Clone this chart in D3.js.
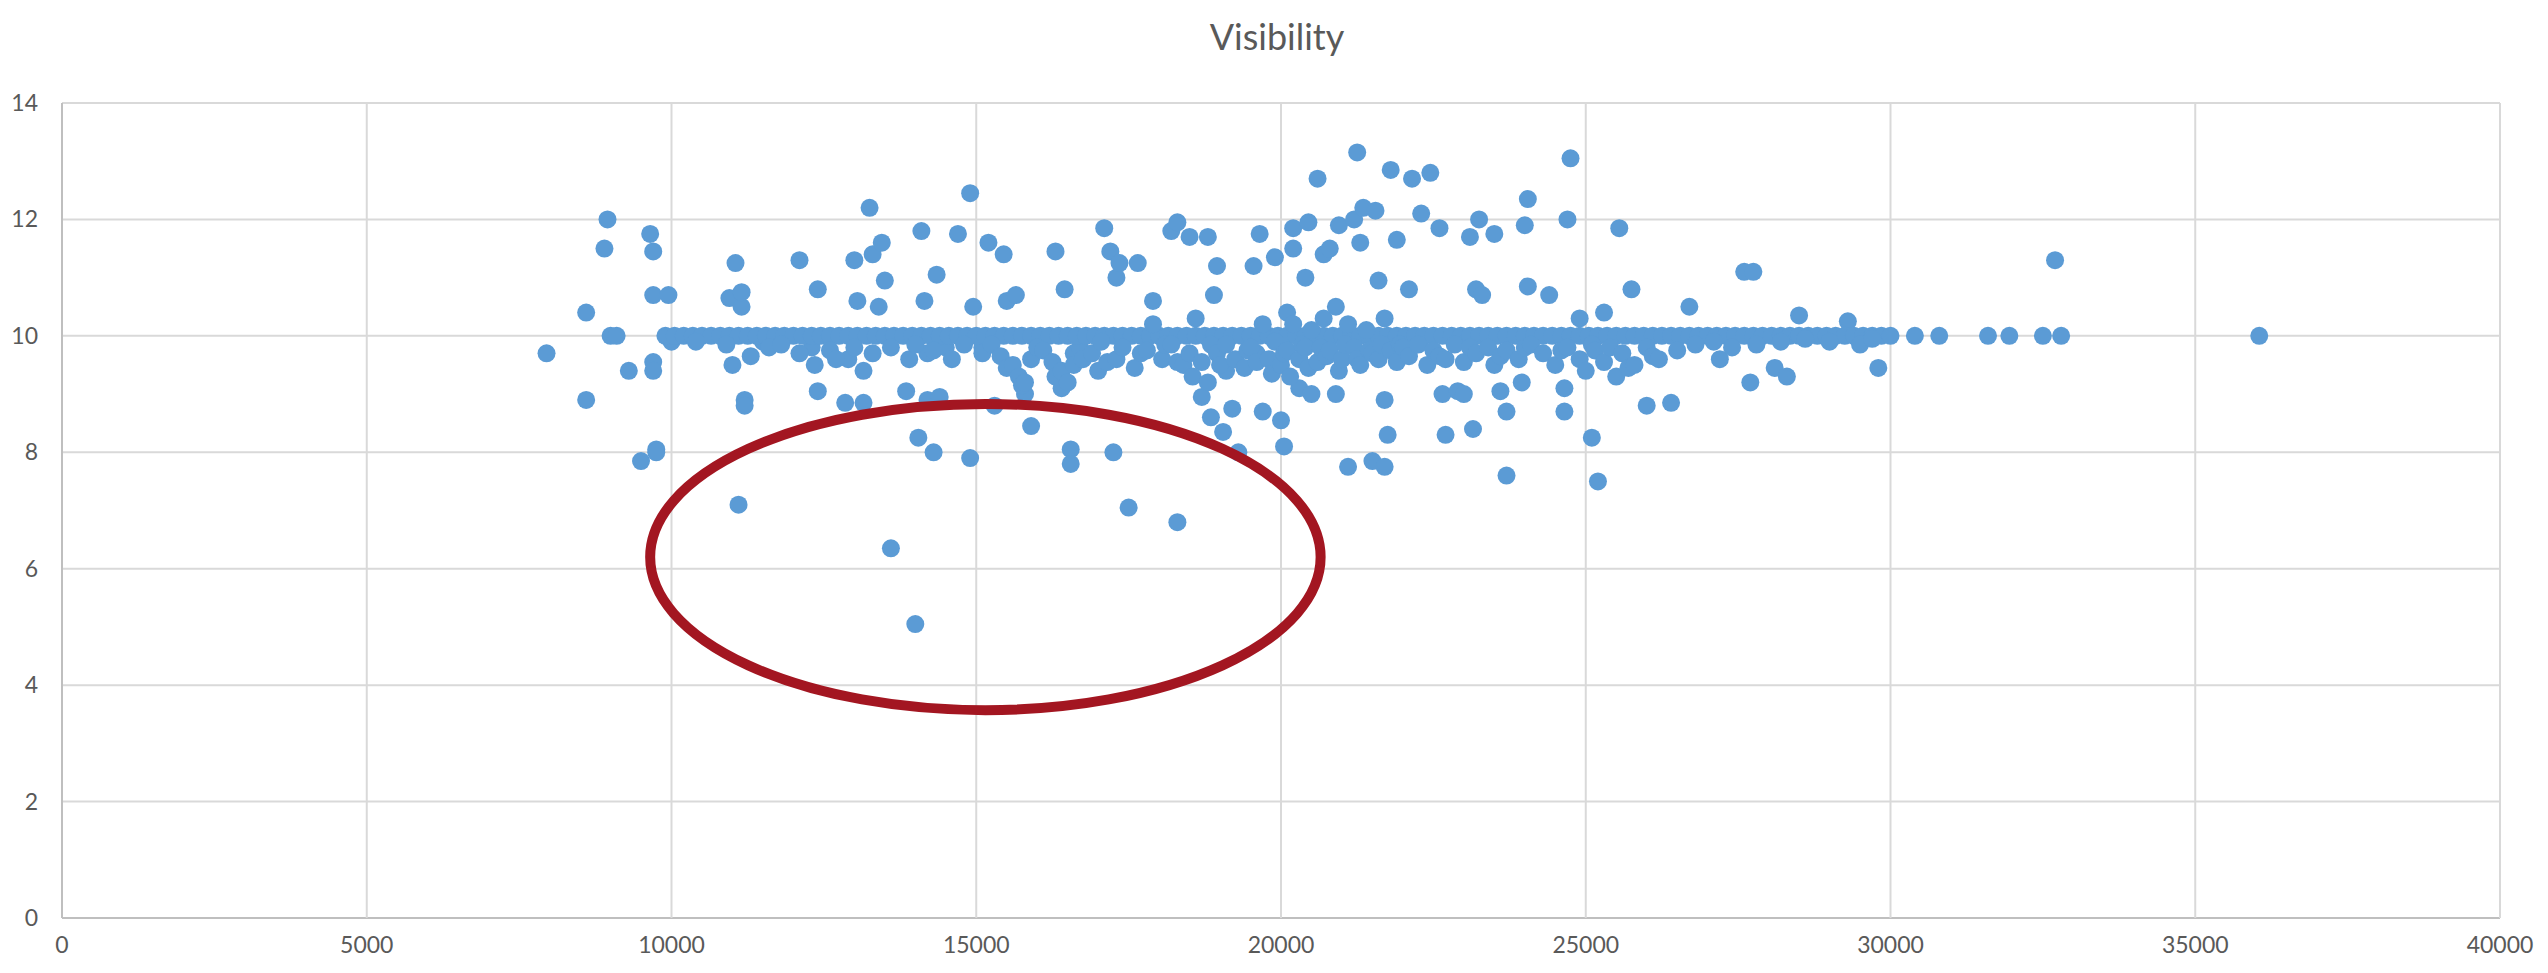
<!DOCTYPE html>
<html><head><meta charset="utf-8">
<script src="https://cdn.jsdelivr.net/npm/d3@7"></script>
<style>body{margin:0;background:#fff}</style></head>
<body><svg id="c" width="2548" height="973"></svg>
<script>
const xTicks=[0,5000,10000,15000,20000,25000,30000,35000,40000];
const yTicks=[0,2,4,6,8,10,12,14];
const outliers=[[7950,9.7],[8600,10.4],[8600,8.9],[8900,11.5],[8950,12.0],[9000,10.0],[9100,10.0],[9300,9.4],[9500,7.85],[9650,11.75],[9700,11.45],[9700,10.7],[9700,9.55],[9700,9.4],[9750,8.05],[9750,8.0],[9950,10.7],[10000,9.9],[10950,10.65],[11000,9.5],[11050,11.25],[11100,7.1],[11150,10.5],[11150,10.75],[11200,8.9],[11200,8.8],[11300,9.65],[11500,9.9],[12100,11.3],[12300,9.8],[12350,9.5],[12400,10.8],[12400,9.05],[12850,8.85],[12900,9.6],[13000,11.3],[13050,10.6],[13150,8.85],[13150,9.4],[13250,12.2],[13300,11.4],[13400,10.5],[13450,11.6],[13500,10.95],[13600,6.35],[13850,9.05],[14000,5.05],[14050,8.25],[14100,11.8],[14150,10.6],[14200,9.7],[14200,8.9],[14300,8.0],[14350,11.05],[14400,8.95],[14500,9.8],[14700,11.75],[14900,12.45],[14950,10.5],[14900,7.9],[15100,9.8],[15200,11.6],[15300,8.8],[15450,11.4],[15500,10.6],[15650,10.7],[15800,9.0],[15900,8.45],[16300,11.45],[16400,9.1],[16450,10.8],[16550,8.05],[16550,7.8],[16600,9.7],[16700,9.8],[17000,9.4],[17100,11.85],[17200,11.45],[17250,8.0],[17300,11.0],[17350,11.25],[17500,7.05],[17650,11.25],[17900,10.6],[18200,11.8],[18300,11.95],[18300,6.8],[18500,11.7],[18700,8.95],[18800,11.7],[18850,8.6],[18900,10.7],[18950,11.2],[19050,8.35],[19100,9.4],[19200,8.75],[19300,8.0],[19550,11.2],[19600,9.7],[19650,11.75],[19700,8.7],[19900,11.35],[20000,8.55],[20050,8.1],[20100,10.4],[20200,11.85],[20200,11.5],[20300,9.1],[20400,11.0],[20450,11.95],[20500,9.0],[20600,12.7],[20700,11.4],[20800,11.5],[20900,9.0],[20950,11.9],[21100,7.75],[21200,12.0],[21250,13.15],[21300,11.6],[21350,12.2],[21500,7.85],[21550,12.15],[21600,10.95],[21700,7.75],[21700,8.9],[21750,8.3],[21800,12.85],[21900,11.65],[22100,10.8],[22150,12.7],[22300,12.1],[22450,12.8],[22600,11.85],[22650,9.0],[22700,8.3],[22900,9.05],[23000,9.0],[23100,11.7],[23150,8.4],[23250,12.0],[23200,10.8],[23300,10.7],[23500,11.75],[23600,9.05],[23700,7.6],[23700,8.7],[23950,9.2],[24000,11.9],[24050,12.35],[24050,10.85],[24400,10.7],[24650,9.1],[24650,8.7],[24700,12.0],[24750,13.05],[24900,10.3],[25100,8.25],[25200,7.5],[25300,10.4],[25550,11.85],[25750,10.8],[26000,8.8],[26400,8.85],[26700,10.5],[27200,9.6],[27600,11.1],[27750,11.1],[27700,9.2],[28100,9.45],[28300,9.3],[28500,10.35],[29300,10.25],[29800,9.45],[30400,10.0],[30800,10.0],[31600,10.0],[31950,10.0],[32500,10.0],[32700,11.3],[32800,10.0],[36050,10.0]];
const bandX=[9900,10050,10200,10350,10500,10650,10800,10950,11100,11250,11400,11550,11700,11850,12000,12150,12300,12450,12600,12750,12900,13050,13200,13350,13500,13650,13800,13950,14100,14250,14400,14550,14700,14850,15000,15150,15300,15450,15600,15750,15900,16050,16200,16350,16500,16650,16800,16950,17100,17250,17400,17550,17700,17850,18000,18150,18300,18450,18600,18750,18900,19050,19200,19350,19500,19650,19800,19950,20100,20250,20400,20550,20700,20850,21000,21150,21300,21450,21600,21750,21900,22050,22200,22350,22500,22650,22800,22950,23100,23250,23400,23550,23700,23850,24000,24150,24300,24450,24600,24750,24900,25050,25200,25350,25500,25650,25800,25950,26100,26250,26400,26550,26700,26850,27000,27150,27300,27450,27600,27750,27900,28050,28200,28350,28500,28650,28800,28950,29100,29250,29400,29550,29700,29850,30000];
const nearBand=[[10400,9.9],[10900,9.85],[11600,9.8],[11800,9.85],[12100,9.7],[12600,9.75],[12700,9.6],[13000,9.8],[13300,9.7],[13600,9.8],[13900,9.6],[14000,9.85],[14300,9.75],[14600,9.6],[14800,9.85],[15100,9.7],[15250,9.85],[15400,9.65],[15500,9.45],[15600,9.5],[15700,9.3],[15750,9.15],[15800,9.2],[15900,9.6],[16000,9.8],[16100,9.75],[16250,9.55],[16300,9.3],[16400,9.4],[16500,9.2],[16600,9.5],[16750,9.6],[16900,9.7],[17050,9.9],[17150,9.55],[17300,9.6],[17400,9.8],[17600,9.45],[17700,9.7],[17800,9.75],[17900,10.2],[18050,9.6],[18100,9.85],[18200,9.85],[18300,9.55],[18400,9.5],[18500,9.7],[18550,9.3],[18600,10.3],[18700,9.55],[18800,9.2],[18850,9.85],[18950,9.7],[19000,9.5],[19100,9.85],[19250,9.6],[19400,9.45],[19450,9.75],[19500,9.8],[19600,9.55],[19700,10.2],[19800,9.6],[19850,9.35],[19900,9.9],[20000,9.5],[20050,9.7],[20100,9.75],[20150,9.3],[20200,10.2],[20300,9.6],[20350,9.85],[20400,9.8],[20450,9.45],[20500,10.1],[20600,9.55],[20650,9.8],[20700,10.3],[20750,9.65],[20800,9.75],[20900,10.5],[20950,9.4],[21000,9.6],[21050,9.85],[21100,10.2],[21200,9.8],[21250,9.6],[21300,9.5],[21400,10.1],[21450,9.75],[21500,9.7],[21600,9.6],[21650,9.85],[21700,10.3],[21800,9.75],[21900,9.55],[21950,9.85],[22000,9.8],[22100,9.65],[22250,9.85],[22400,9.5],[22500,9.75],[22600,9.65],[22700,9.6],[22850,9.85],[23000,9.55],[23100,9.8],[23200,9.7],[23400,9.8],[23500,9.5],[23600,9.65],[23700,9.75],[23900,9.6],[24000,9.8],[24100,9.85],[24300,9.7],[24500,9.5],[24600,9.75],[24700,9.8],[24900,9.6],[25000,9.4],[25100,9.85],[25150,9.75],[25300,9.55],[25400,9.8],[25500,9.3],[25600,9.7],[25700,9.45],[25800,9.5],[26000,9.8],[26100,9.65],[26200,9.6],[26500,9.75],[26800,9.85],[27100,9.9],[27400,9.8],[27800,9.85],[28200,9.9],[28600,9.95],[29000,9.9],[29500,9.85],[29700,9.95]];
const ellipseC=[15150,6.2];

const svg=d3.select("#c");
const M={l:62,r:2500,t:103,b:918};
const x=d3.scaleLinear().domain([0,40000]).range([M.l,M.r]);
const y=d3.scaleLinear().domain([0,14]).range([M.b,M.t]);
const font="Lato, 'Open Sans', sans-serif";
const g=svg.append("g");
g.selectAll(".hg").data(yTicks).join("line").attr("x1",M.l).attr("x2",M.r).attr("y1",d=>y(d)).attr("y2",d=>y(d)).attr("stroke",d=>d===0?"#bfbfbf":"#d9d9d9").attr("stroke-width",2);
g.selectAll(".vg").data(xTicks).join("line").attr("y1",M.t).attr("y2",M.b).attr("x1",d=>x(d)).attr("x2",d=>x(d)).attr("stroke",d=>d===0?"#bfbfbf":"#d9d9d9").attr("stroke-width",2);
g.selectAll(".yl").data(yTicks).join("text").attr("x",38).attr("y",d=>y(d)+8).attr("text-anchor","end").attr("font-family",font).attr("font-size",23).attr("fill","#595959").text(d=>d);
g.selectAll(".xl").data(xTicks).join("text").attr("x",d=>x(d)).attr("y",953).attr("text-anchor","middle").attr("font-family",font).attr("font-size",23).attr("fill","#595959").text(d=>d);
svg.append("text").attr("x",1277).attr("y",50).attr("text-anchor","middle").attr("font-family",font).attr("font-size",36).attr("fill","#595959").text("Visibility");
const pts=outliers.concat(bandX.map(v=>[v,10]),nearBand);
svg.append("g").selectAll("circle").data(pts).join("circle").attr("cx",d=>x(d[0])).attr("cy",d=>y(d[1])).attr("r",9).attr("fill","#5B9BD5");
svg.append("ellipse").attr("cx",x(ellipseC[0])).attr("cy",y(ellipseC[1])).attr("rx",x(5500)-x(0)).attr("ry",y(0)-y(2.63)).attr("fill","none").attr("stroke","#A31621").attr("stroke-width",10);
</script></body></html>
